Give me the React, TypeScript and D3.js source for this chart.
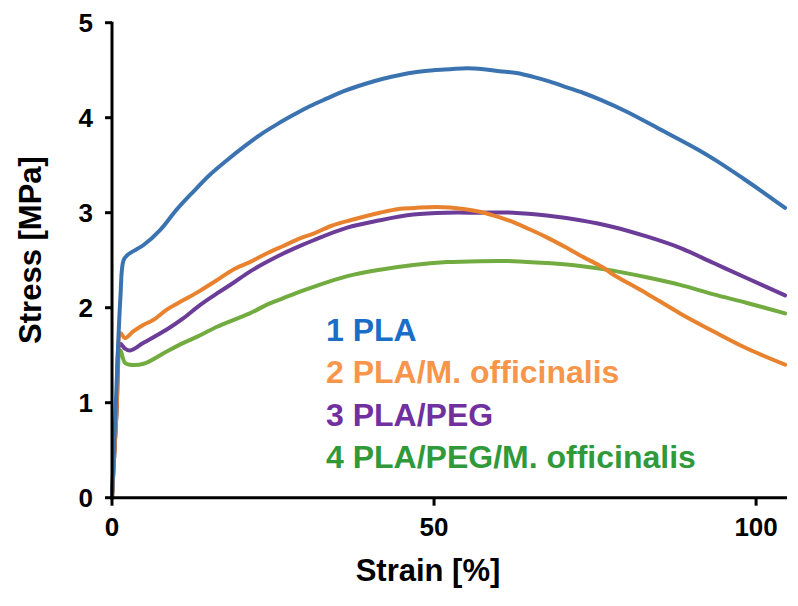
import React from "react";
import * as d3 from "d3";

// ---- Data (strain %, stress MPa) ----
const plaStrain = [0, 0.6, 1.3, 1.8, 2.5, 4.9, 7.5, 10, 12.6, 15.2, 17.8, 20.4, 23, 25.6, 28.2, 30.7, 33.3, 36, 39.5, 42.1, 44.7, 47.3, 49.9, 52.5, 55.1, 57.7, 60.2, 62.8, 65.4, 68, 70.6, 73.2, 75.8, 80, 85, 90.8, 94, 98, 101, 104.5];
const plaStress = [0, 1.0, 2.1, 2.5, 2.56, 2.66, 2.82, 3.03, 3.22, 3.4, 3.55, 3.69, 3.82, 3.93, 4.03, 4.12, 4.2, 4.28, 4.36, 4.41, 4.45, 4.48, 4.5, 4.51, 4.52, 4.51, 4.49, 4.47, 4.43, 4.38, 4.32, 4.26, 4.19, 4.06, 3.88, 3.67, 3.54, 3.36, 3.22, 3.05];

const plaMoStrain = [0, 0.7, 1.35, 2.0, 3.3, 4.9, 6.4, 8.5, 11.1, 13.7, 16.3, 18.8, 21.4, 24, 26.6, 29.2, 31.3, 34, 37, 41.6, 44.5, 47, 50.4, 54.6, 57.1, 60.2, 62.3, 65, 67.5, 70.6, 72.7, 76.3, 77.8, 83, 88.2, 93.4, 98.6, 104.5];
const plaMoStress = [0, 0.9, 1.73, 1.68, 1.75, 1.82, 1.87, 1.98, 2.08, 2.18, 2.29, 2.4, 2.48, 2.57, 2.65, 2.73, 2.78, 2.86, 2.92, 3.0, 3.04, 3.05, 3.06, 3.04, 3.01, 2.95, 2.9, 2.82, 2.74, 2.63, 2.55, 2.42, 2.35, 2.15, 1.94, 1.75, 1.57, 1.4];

const plaPegStrain = [0, 0.7, 1.3, 2.0, 2.8, 4.9, 8.5, 11.1, 13.7, 16.3, 18.8, 21.4, 24, 26.6, 29.2, 31.3, 36.4, 41.6, 46.8, 52, 57.1, 62.3, 67.5, 72.7, 77.8, 83, 88.2, 93.4, 98.6, 104.5];
const plaPegStress = [0, 0.9, 1.62, 1.57, 1.55, 1.63, 1.77, 1.89, 2.03, 2.15, 2.26, 2.38, 2.48, 2.57, 2.65, 2.71, 2.84, 2.92, 2.98, 3.0, 3.0, 3.0, 2.97, 2.92, 2.85, 2.75, 2.63, 2.47, 2.31, 2.13];

const plaPegMoStrain = [0, 0.7, 1.3, 2.0, 2.8, 4.9, 8.5, 11.1, 13.7, 16.3, 18.8, 21.4, 24, 26.6, 29.2, 31.3, 36.4, 41.6, 46.8, 52, 57.1, 62.3, 67.5, 72.7, 77.8, 83, 88.2, 93.4, 98.6, 104.5];
const plaPegMoStress = [0, 0.9, 1.55, 1.42, 1.4, 1.41, 1.54, 1.63, 1.71, 1.8, 1.87, 1.94, 2.03, 2.1, 2.17, 2.22, 2.33, 2.4, 2.45, 2.48, 2.49, 2.49, 2.47, 2.44, 2.39, 2.32, 2.24, 2.14, 2.05, 1.94];

const seriesLabels = ["1 PLA", "2 PLA/M. officinalis", "3 PLA/PEG", "4 PLA/PEG/M. officinalis"];
const lineColors = ["#3b73b1", "#e9822f", "#6c3d98", "#72ab3f"];
const textColors = ["#1a6ec8", "#f7964a", "#7030a0", "#30993a"];

const xTicks = [0, 50, 100];
const yTicks = [0, 1, 2, 3, 4, 5];
const xTitle = "Strain [%]";
const yTitle = "Stress [MPa]";

const W = 798;
const H = 606;
const FONT = "'Liberation Sans', Arial, sans-serif";

export default function App() {
  const x = d3.scaleLinear().domain([0, 104.8]).range([112, 787]);
  const y = d3.scaleLinear().domain([0, 5]).range([497.7, 22.7]);

  const series = [
    [plaStrain, plaStress],
    [plaMoStrain, plaMoStress],
    [plaPegStrain, plaPegStress],
    [plaPegMoStrain, plaPegMoStress],
  ];

  const line = d3
    .line<[number, number]>()
    .x((d) => x(d[0]))
    .y((d) => y(d[1]))
    .curve(d3.curveCatmullRom.alpha(0.5));

  const drawOrder = [3, 2, 1, 0];

  return (
    <svg
      width={W}
      height={H}
      style={{ position: "absolute", left: 0, top: 0, background: "#fff" }}
      fontFamily={FONT}
    >
      {/* curves */}
      {drawOrder.map((i) => {
        const [xs, ys] = series[i];
        const pts = xs.map((v, k) => [v, ys[k]] as [number, number]);
        return (
          <path
            key={i}
            d={line(pts) || ""}
            fill="none"
            stroke={lineColors[i]}
            strokeWidth={4}
            strokeLinejoin="round"
            strokeLinecap="round"
          />
        );
      })}

      {/* y axis */}
      <line x1={x(0)} x2={x(0)} y1={y(0)} y2={y(5) - 1} stroke="#000" strokeWidth={3} />
      {yTicks.map((t) => (
        <g key={"y" + t}>
          <line x1={x(0) - 7} x2={x(0)} y1={y(t)} y2={y(t)} stroke="#000" strokeWidth={3} />
          <text
            x={93}
            y={y(t)}
            dy="0.35em"
            textAnchor="end"
            fontSize={26}
            fontWeight="bold"
            fill="#000"
          >
            {t}
          </text>
        </g>
      ))}

      {/* x axis */}
      <line x1={x(0) - 1.5} x2={787} y1={y(0)} y2={y(0)} stroke="#000" strokeWidth={3} />
      {xTicks.map((t) => (
        <g key={"x" + t}>
          <line x1={x(t)} x2={x(t)} y1={y(0)} y2={y(0) + 8} stroke="#000" strokeWidth={3} />
          <text
            x={x(t)}
            y={536}
            textAnchor="middle"
            fontSize={26}
            fontWeight="bold"
            fill="#000"
          >
            {t}
          </text>
        </g>
      ))}

      {/* axis titles */}
      <text x={428} y={581} textAnchor="middle" fontSize={31} fontWeight="bold" fill="#000">
        {xTitle}
      </text>
      <text
        transform={`translate(41,250) rotate(-90)`}
        textAnchor="middle"
        fontSize={31}
        fontWeight="bold"
        fill="#000"
      >
        {yTitle}
      </text>

      {/* legend */}
      {seriesLabels.map((s, i) => (
        <text
          key={s}
          x={326}
          y={341 + i * 42.3}
          fontSize={32}
          fontWeight="bold"
          fill={textColors[i]}
        >
          {s}
        </text>
      ))}
    </svg>
  );
}
